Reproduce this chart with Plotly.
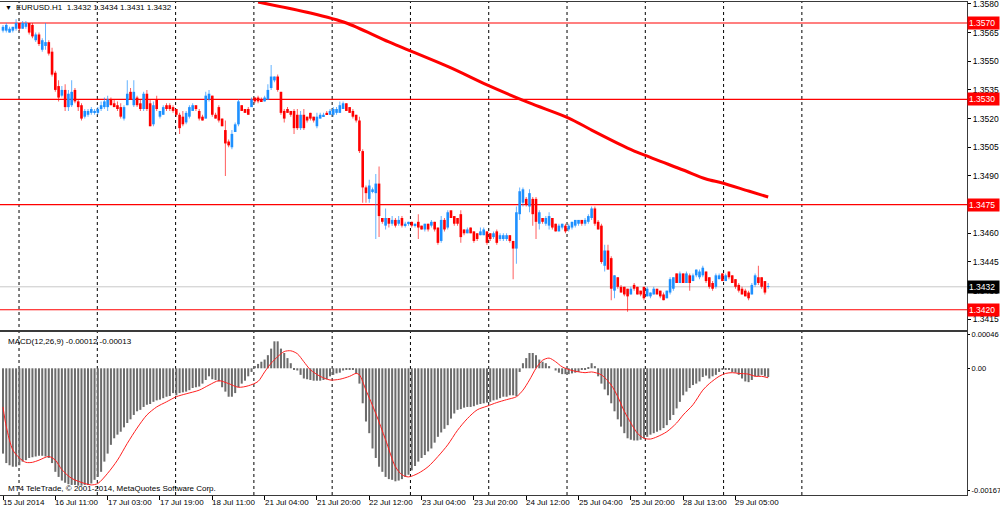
import plotly.graph_objects as go

# ------------------------------------------------------------------ data
time_labels = ["15 Jul 2014", "16 Jul 11:00", "17 Jul 03:00", "17 Jul 19:00", "18 Jul 11:00",
               "21 Jul 04:00", "21 Jul 20:00", "22 Jul 12:00", "23 Jul 04:00", "23 Jul 20:00",
               "24 Jul 12:00", "25 Jul 04:00", "25 Jul 20:00", "28 Jul 13:00", "29 Jul 05:00"]

open_ = [
    1.3566, 1.3566, 1.3565, 1.3566, 1.3567, 1.3570, 1.3567, 1.3568, 1.3570, 1.3569,
    1.3561, 1.3564, 1.3556, 1.3558, 1.3560, 1.3555, 1.3544, 1.3537, 1.3532, 1.3535,
    1.3526, 1.3527, 1.3535, 1.3529, 1.3527, 1.3521, 1.3522, 1.3523, 1.3523, 1.3523,
    1.3525, 1.3526, 1.3526, 1.3530, 1.3528, 1.3527, 1.3526, 1.3520, 1.3527, 1.3534,
    1.3527, 1.3531, 1.3528, 1.3525, 1.3533, 1.3528, 1.3517, 1.3530, 1.3521, 1.3522,
    1.3527, 1.3527, 1.3526, 1.3525, 1.3522, 1.3521, 1.3518, 1.3521, 1.3524, 1.3527,
    1.3524, 1.3521, 1.3520, 1.3530, 1.3532, 1.3522, 1.3526, 1.3520, 1.3514, 1.3508,
    1.3505, 1.3513, 1.3517, 1.3527, 1.3525, 1.3525, 1.3526, 1.3531, 1.3531, 1.3530,
    1.3529, 1.3530, 1.3536, 1.3540, 1.3542, 1.3534, 1.3524, 1.3525, 1.3524, 1.3524,
    1.3522, 1.3515, 1.3522, 1.3521, 1.3523, 1.3521, 1.3516, 1.3520, 1.3521, 1.3523,
    1.3522, 1.3522, 1.3523, 1.3523, 1.3525, 1.3528, 1.3526, 1.3524, 1.3522, 1.3519,
    1.3503, 1.3484, 1.3478, 1.3482, 1.3481, 1.3486, 1.3468, 1.3464, 1.3468, 1.3465,
    1.3467, 1.3465, 1.3468, 1.3464, 1.3465, 1.3466, 1.3464, 1.3466, 1.3464, 1.3462,
    1.3465, 1.3464, 1.3466, 1.3463, 1.3456, 1.3467, 1.3463, 1.3472, 1.3469, 1.3468,
    1.3470, 1.3462, 1.3460, 1.3463, 1.3461, 1.3460, 1.3459, 1.3459, 1.3461, 1.3460,
    1.3458, 1.3461, 1.3457, 1.3457, 1.3457, 1.3459, 1.3456, 1.3452, 1.3470, 1.3476,
    1.3478, 1.3474, 1.3478, 1.3478, 1.3465, 1.3468, 1.3465, 1.3464, 1.3468, 1.3465,
    1.3461, 1.3463, 1.3464, 1.3462, 1.3463, 1.3464, 1.3465, 1.3467, 1.3465, 1.3466,
    1.3468, 1.3473, 1.3466, 1.3464, 1.3443, 1.3451, 1.3447, 1.3430, 1.3437, 1.3432,
    1.3432, 1.3431, 1.3428, 1.3433, 1.3432, 1.3430, 1.3432, 1.3427, 1.3427, 1.3428,
    1.3431, 1.3430, 1.3428, 1.3426, 1.3429, 1.3431, 1.3439, 1.3434, 1.3439, 1.3434,
    1.3438, 1.3435, 1.3438, 1.3437, 1.3438, 1.3440, 1.3437, 1.3434, 1.3432, 1.3436,
    1.3439, 1.3435, 1.3440, 1.3438, 1.3436, 1.3433, 1.3431, 1.3430, 1.3429, 1.3428,
    1.3433, 1.3437, 1.3437, 1.3435, 1.3432]

high = [
    1.3569, 1.3570, 1.3568, 1.3568, 1.3572, 1.3570, 1.3571, 1.3571, 1.3570, 1.3570,
    1.3565, 1.3565, 1.3562, 1.3570, 1.3561, 1.3557, 1.3545, 1.3540, 1.3537, 1.3538,
    1.3535, 1.3540, 1.3536, 1.3530, 1.3528, 1.3525, 1.3525, 1.3526, 1.3525, 1.3526,
    1.3529, 1.3531, 1.3532, 1.3531, 1.3530, 1.3529, 1.3528, 1.3527, 1.3540, 1.3536,
    1.3540, 1.3532, 1.3530, 1.3534, 1.3535, 1.3530, 1.3529, 1.3532, 1.3524, 1.3527,
    1.3528, 1.3528, 1.3527, 1.3525, 1.3523, 1.3524, 1.3524, 1.3527, 1.3528, 1.3527,
    1.3525, 1.3522, 1.3534, 1.3535, 1.3532, 1.3523, 1.3527, 1.3520, 1.3519, 1.3509,
    1.3514, 1.3518, 1.3530, 1.3527, 1.3525, 1.3526, 1.3531, 1.3531, 1.3532, 1.3531,
    1.3532, 1.3538, 1.3548, 1.3542, 1.3543, 1.3534, 1.3525, 1.3526, 1.3524, 1.3525,
    1.3525, 1.3524, 1.3525, 1.3521, 1.3523, 1.3521, 1.3523, 1.3523, 1.3523, 1.3524,
    1.3525, 1.3526, 1.3526, 1.3529, 1.3529, 1.3528, 1.3526, 1.3525, 1.3522, 1.3521,
    1.3504, 1.3485, 1.3488, 1.3484, 1.3491, 1.3495, 1.3468, 1.3473, 1.3468, 1.3469,
    1.3468, 1.3469, 1.3469, 1.3466, 1.3466, 1.3466, 1.3465, 1.3470, 1.3464, 1.3465,
    1.3465, 1.3467, 1.3466, 1.3463, 1.3469, 1.3468, 1.3472, 1.3472, 1.3469, 1.3468,
    1.3472, 1.3462, 1.3463, 1.3463, 1.3461, 1.3460, 1.3463, 1.3463, 1.3461, 1.3460,
    1.3461, 1.3462, 1.3460, 1.3460, 1.3460, 1.3459, 1.3456, 1.3474, 1.3484, 1.3484,
    1.3479, 1.3483, 1.3479, 1.3479, 1.3472, 1.3468, 1.3469, 1.3471, 1.3468, 1.3465,
    1.3465, 1.3465, 1.3465, 1.3465, 1.3466, 1.3467, 1.3467, 1.3467, 1.3468, 1.3470,
    1.3474, 1.3474, 1.3467, 1.3465, 1.3454, 1.3454, 1.3448, 1.3438, 1.3437, 1.3433,
    1.3432, 1.3431, 1.3432, 1.3434, 1.3432, 1.3430, 1.3432, 1.3432, 1.3429, 1.3432,
    1.3431, 1.3430, 1.3429, 1.3430, 1.3437, 1.3437, 1.3439, 1.3440, 1.3439, 1.3440,
    1.3439, 1.3439, 1.3441, 1.3441, 1.3443, 1.3440, 1.3437, 1.3435, 1.3439, 1.3439,
    1.3439, 1.3439, 1.3440, 1.3438, 1.3436, 1.3434, 1.3432, 1.3431, 1.3430, 1.3434,
    1.3439, 1.3443, 1.3437, 1.3435, 1.3434]

low = [
    1.3565, 1.3565, 1.3565, 1.3565, 1.3566, 1.3566, 1.3567, 1.3567, 1.3564, 1.3562,
    1.3560, 1.3558, 1.3555, 1.3556, 1.3553, 1.3542, 1.3534, 1.3529, 1.3531, 1.3524,
    1.3524, 1.3526, 1.3528, 1.3524, 1.3519, 1.3520, 1.3521, 1.3522, 1.3522, 1.3522,
    1.3524, 1.3525, 1.3524, 1.3527, 1.3526, 1.3524, 1.3520, 1.3519, 1.3527, 1.3530,
    1.3526, 1.3526, 1.3524, 1.3524, 1.3524, 1.3516, 1.3516, 1.3524, 1.3520, 1.3522,
    1.3524, 1.3524, 1.3523, 1.3521, 1.3512, 1.3516, 1.3517, 1.3520, 1.3524, 1.3524,
    1.3519, 1.3519, 1.3520, 1.3529, 1.3521, 1.3520, 1.3518, 1.3516, 1.3490, 1.3505,
    1.3504, 1.3513, 1.3516, 1.3524, 1.3523, 1.3522, 1.3526, 1.3528, 1.3528, 1.3529,
    1.3529, 1.3530, 1.3535, 1.3539, 1.3534, 1.3522, 1.3518, 1.3523, 1.3521, 1.3512,
    1.3514, 1.3514, 1.3514, 1.3518, 1.3519, 1.3518, 1.3515, 1.3520, 1.3521, 1.3522,
    1.3522, 1.3521, 1.3522, 1.3523, 1.3525, 1.3524, 1.3523, 1.3520, 1.3518, 1.3502,
    1.3476, 1.3476, 1.3476, 1.3481, 1.3457, 1.3458, 1.3465, 1.3462, 1.3463, 1.3464,
    1.3463, 1.3464, 1.3463, 1.3463, 1.3464, 1.3463, 1.3463, 1.3457, 1.3462, 1.3461,
    1.3461, 1.3463, 1.3461, 1.3454, 1.3455, 1.3461, 1.3462, 1.3468, 1.3464, 1.3464,
    1.3455, 1.3459, 1.3460, 1.3460, 1.3455, 1.3456, 1.3459, 1.3459, 1.3454, 1.3456,
    1.3457, 1.3454, 1.3456, 1.3456, 1.3456, 1.3455, 1.3436, 1.3444, 1.3467, 1.3474,
    1.3474, 1.3471, 1.3464, 1.3457, 1.3462, 1.3465, 1.3464, 1.3462, 1.3462, 1.3461,
    1.3461, 1.3462, 1.3460, 1.3461, 1.3462, 1.3463, 1.3464, 1.3464, 1.3464, 1.3465,
    1.3467, 1.3464, 1.3462, 1.3444, 1.3440, 1.3441, 1.3425, 1.3426, 1.3431, 1.3429,
    1.3427, 1.3419, 1.3428, 1.3430, 1.3428, 1.3427, 1.3425, 1.3427, 1.3426, 1.3428,
    1.3428, 1.3426, 1.3425, 1.3426, 1.3428, 1.3430, 1.3434, 1.3434, 1.3434, 1.3434,
    1.3430, 1.3435, 1.3437, 1.3436, 1.3437, 1.3434, 1.3431, 1.3430, 1.3431, 1.3436,
    1.3435, 1.3435, 1.3436, 1.3434, 1.3431, 1.3429, 1.3428, 1.3427, 1.3425, 1.3428,
    1.3432, 1.3433, 1.3431, 1.3428, 1.3431]

close = [
    1.3568, 1.3569, 1.3567, 1.3568, 1.3570, 1.3567, 1.3570, 1.3570, 1.3565, 1.3563,
    1.3564, 1.3559, 1.3561, 1.3560, 1.3554, 1.3543, 1.3535, 1.3531, 1.3535, 1.3526,
    1.3533, 1.3534, 1.3529, 1.3526, 1.3520, 1.3524, 1.3524, 1.3525, 1.3524, 1.3525,
    1.3527, 1.3529, 1.3530, 1.3527, 1.3526, 1.3525, 1.3521, 1.3526, 1.3533, 1.3530,
    1.3534, 1.3527, 1.3525, 1.3533, 1.3525, 1.3516, 1.3527, 1.3525, 1.3524, 1.3526,
    1.3525, 1.3525, 1.3524, 1.3522, 1.3515, 1.3517, 1.3523, 1.3526, 1.3527, 1.3525,
    1.3520, 1.3519, 1.3532, 1.3533, 1.3522, 1.3520, 1.3519, 1.3516, 1.3507, 1.3506,
    1.3512, 1.3517, 1.3529, 1.3524, 1.3523, 1.3522, 1.3530, 1.3529, 1.3529, 1.3529,
    1.3531, 1.3535, 1.3542, 1.3542, 1.3535, 1.3523, 1.3520, 1.3523, 1.3522, 1.3515,
    1.3515, 1.3522, 1.3515, 1.3519, 1.3520, 1.3519, 1.3521, 1.3522, 1.3522, 1.3522,
    1.3524, 1.3525, 1.3525, 1.3527, 1.3528, 1.3524, 1.3523, 1.3521, 1.3519, 1.3503,
    1.3484, 1.3481, 1.3485, 1.3483, 1.3486, 1.3469, 1.3466, 1.3468, 1.3465, 1.3467,
    1.3464, 1.3467, 1.3464, 1.3465, 1.3466, 1.3464, 1.3465, 1.3463, 1.3462, 1.3465,
    1.3462, 1.3466, 1.3462, 1.3455, 1.3467, 1.3462, 1.3471, 1.3468, 1.3465, 1.3465,
    1.3458, 1.3460, 1.3462, 1.3460, 1.3456, 1.3457, 1.3461, 1.3462, 1.3455, 1.3457,
    1.3460, 1.3455, 1.3459, 1.3459, 1.3459, 1.3456, 1.3452, 1.3471, 1.3482, 1.3483,
    1.3475, 1.3481, 1.3470, 1.3466, 1.3471, 1.3466, 1.3468, 1.3469, 1.3463, 1.3461,
    1.3464, 1.3465, 1.3461, 1.3464, 1.3466, 1.3467, 1.3467, 1.3465, 1.3467, 1.3469,
    1.3473, 1.3465, 1.3462, 1.3445, 1.3451, 1.3441, 1.3431, 1.3438, 1.3432, 1.3429,
    1.3428, 1.3427, 1.3431, 1.3431, 1.3428, 1.3428, 1.3426, 1.3431, 1.3429, 1.3431,
    1.3428, 1.3427, 1.3425, 1.3430, 1.3436, 1.3437, 1.3434, 1.3439, 1.3434, 1.3439,
    1.3434, 1.3438, 1.3441, 1.3440, 1.3442, 1.3435, 1.3432, 1.3431, 1.3438, 1.3438,
    1.3435, 1.3438, 1.3437, 1.3434, 1.3432, 1.3430, 1.3428, 1.3427, 1.3426, 1.3433,
    1.3438, 1.3434, 1.3432, 1.3429, 1.3432]

# MACD(12,26,9) main line (histogram), in units of 0.00001
macd_main_e5 = [
    -117, -130, -133, -135, -135, -133, -128, -126, -123, -122,
    -121, -120, -120, -121, -123, -130, -142, -149, -154, -157,
    -159, -160, -160, -161, -161, -160, -160, -158, -153, -149,
    -142, -128, -117, -105, -96, -91, -87, -81, -75, -70,
    -64, -59, -57, -53, -50, -49, -46, -44, -43, -41,
    -39, -38, -34, -37, -34, -33, -32, -30, -27, -26,
    -25, -21, -16, -11, -15, -16, -18, -26, -32, -39,
    -39, -34, -26, -21, -17, -11, -5, 3, 6, 9,
    12, 18, 27, 37, 37, 27, 21, 14, 7, -1,
    -3, -9, -14, -15, -16, -17, -17, -17, -16, -15,
    -11, -9, -7, -6, -3, -1, -1, -2, -7, -21,
    -48, -73, -89, -110, -123, -135, -142, -149, -152, -153,
    -155, -154, -152, -149, -146, -140, -134, -128, -123, -119,
    -114, -110, -102, -94, -88, -83, -78, -69, -62, -57,
    -56, -54, -53, -53, -52, -50, -49, -48, -47, -46,
    -44, -43, -41, -39, -39, -37, -37, -38, -5, 7,
    14, 21, 21, 18, 12, 9, 7, 3, 0, -3,
    -6, -8, -8, -8, -7, -6, -5, -2, -1, 1,
    7, 3, -11, -21, -29, -37, -48, -59, -70, -80,
    -89, -96, -98, -99, -99, -98, -96, -94, -91, -89,
    -87, -85, -82, -78, -71, -64, -55, -46, -37, -32,
    -27, -23, -21, -18, -12, -10, -14, -11, -9, -5,
    -2, -1, -2, -5, -6, -9, -14, -18, -19, -16,
    -11, -11, -9, -11, -12]

# MACD signal line, read at sample bars (units of 0.00001)
signal_bar = [0, 1, 3, 5, 7, 9, 11, 14, 16, 18, 21, 25, 27, 29, 32, 35, 38, 41, 44, 47,
              50, 53, 56, 60, 63, 66, 69, 72, 75, 78, 80, 82, 84, 86, 88, 90, 92, 94, 97, 100,
              103, 106, 108, 109, 111, 114, 117, 120, 122, 124, 127, 130, 133, 136, 139, 142,
              145, 148, 151, 154, 157, 159, 161, 163, 165, 167, 169, 171, 174, 178, 180, 183,
              186, 188, 190, 192, 194, 196, 198, 200, 203, 206, 208, 211, 214, 216, 219, 221,
              223, 225, 228, 230, 232, 234]
signal_e5 = [-53, -80, -112, -123, -129, -129, -126, -121, -126, -139, -151, -158, -160, -158,
             -144, -126, -103, -82, -64, -53, -46, -39, -35, -30, -23, -17, -21, -26, -24, -18,
             -5, 7, 16, 23, 24, 20, 9, -2, -11, -16, -15, -11, -7, -9, -30, -62, -98, -135,
             -146, -149, -144, -135, -121, -105, -85, -69, -57, -52, -47, -43, -39, -30, -16,
             0, 11, 14, 9, 2, -3, -6, -5, -9, -23, -39, -59, -75, -89, -96, -97, -94, -87,
             -75, -64, -50, -30, -21, -11, -7, -6, -7, -8, -11, -11, -13]

# long moving average (thick red line), read at sample bars
ma_bar = [78, 94, 105, 118, 137, 148, 161, 173, 180, 191, 196, 208, 215, 220, 228, 234]
ma_val = [1.35810, 1.35752, 1.35700, 1.35601, 1.35465, 1.35376, 1.35282, 1.35203,
          1.35140, 1.35046, 1.35010, 1.34931, 1.34884, 1.34863, 1.34821, 1.34790]

level_prices = [1.3570, 1.3530, 1.3475, 1.3420]
bid_price = 1.3432
price_ticks = [1.3580, 1.3565, 1.3550, 1.3535, 1.3520, 1.3505, 1.3490,
               1.3460, 1.3445, 1.3430, 1.3415]
macd_ticks_e5 = [46, 0, -167]
macd_tick_text = ["0.00046", "0.00", "-0.00167"]

header_text = "EURUSD.H1  1.3432 1.3434 1.3431 1.3432"
macd_text = "MACD(12,26,9) -0.00012 -0.00013"
copyright_text = "MT4 TeleTrade, \u00a9 2001-2014, MetaQuotes Software Corp."

# ------------------------------------------------------------------ styling
FONT = "Liberation Sans"
FS = 8.5
FS_TXT = 8
FS_MACD = 7.5
UP = "#1E90FF"
DN = "#FF0000"
UP_W = "rgba(30,144,255,0.7)"
DN_W = "rgba(255,0,0,0.65)"
HIST = "#6c6c6c"
FRAME = "#3a3a3a"
LABEL_STEP = 16          # bars between time labels
GRID_FIRST, GRID_STEP, GRID_COUNT = 4.9, 23.94, 11

n = len(close)
bars = list(range(n))
is_up = [c >= o for o, c in zip(open_, close)]
body_base = [min(o, c) for o, c in zip(open_, close)]
body_h = [max(abs(c - o), 0.00003) for o, c in zip(open_, close)]
wick_h = [h - l for h, l in zip(high, low)]
label_pos = [LABEL_STEP * k for k in range(len(time_labels))]

fig = go.Figure()

# wicks
fig.add_trace(go.Bar(x=bars, y=wick_h, base=low, width=0.3,
                     marker=dict(color=[UP_W if u else DN_W for u in is_up], line=dict(width=0)),
                     xaxis="x", yaxis="y", hoverinfo="skip", showlegend=False))
# bodies
fig.add_trace(go.Bar(x=bars, y=body_h, base=body_base, width=0.8,
                     marker=dict(color=[UP if u else DN for u in is_up], line=dict(width=0)),
                     xaxis="x", yaxis="y", hoverinfo="skip", showlegend=False))
# moving average
fig.add_trace(go.Scatter(x=ma_bar, y=ma_val, mode="lines",
                         line=dict(color="#FF0000", width=3, shape="spline", smoothing=0.8),
                         xaxis="x", yaxis="y", hoverinfo="skip", showlegend=False))
# MACD histogram
fig.add_trace(go.Bar(x=bars, y=macd_main_e5, width=0.62,
                     marker=dict(color=HIST, line=dict(width=0)),
                     xaxis="x2", yaxis="y2", hoverinfo="skip", showlegend=False))
# signal line
fig.add_trace(go.Scatter(x=signal_bar, y=signal_e5, mode="lines",
                         line=dict(color="#FF2020", width=1, shape="spline", smoothing=0.8),
                         xaxis="x2", yaxis="y2", hoverinfo="skip", showlegend=False))

shapes = []
for k in range(GRID_COUNT):
    gx = GRID_FIRST + GRID_STEP * k
    shapes.append(dict(type="line", xref="x", yref="paper", x0=gx, x1=gx, y0=0, y1=0.996,
                       line=dict(color="#000000", width=1, dash="dot"), layer="below"))
for lv in level_prices:
    shapes.append(dict(type="line", xref="paper", yref="y", x0=0, x1=1, y0=lv, y1=lv,
                       line=dict(color="#FF0000", width=1.2), layer="below"))
shapes.append(dict(type="line", xref="paper", yref="y", x0=0, x1=1, y0=bid_price, y1=bid_price,
                   line=dict(color="#C8C8C8", width=1), layer="below"))

annotations = [
    dict(text="\u25bc", xref="paper", yref="paper", x=0.0035, y=0.984, xanchor="left",
         yanchor="middle", showarrow=False, font=dict(family=FONT, size=7, color="#000")),
    dict(text=header_text, xref="paper", yref="paper", x=0.0145, y=0.984, xanchor="left",
         yanchor="middle", showarrow=False, font=dict(family=FONT, size=FS_TXT, color="#000")),
    dict(text=macd_text, xref="paper", yref="paper", x=0.006, y=0.311, xanchor="left",
         yanchor="middle", showarrow=False, font=dict(family=FONT, size=FS_TXT, color="#000")),
    dict(text=copyright_text, xref="paper", yref="paper", x=0.006, y=0.013, xanchor="left",
         yanchor="middle", showarrow=False, font=dict(family=FONT, size=FS_TXT, color="#000")),
]
for lv in level_prices:
    annotations.append(dict(text=f"{lv:.4f}", xref="paper", yref="y", x=1, y=lv,
                            xanchor="left", yanchor="middle", showarrow=False,
                            bgcolor="#FF0000", width=29, align="left", borderpad=1,
                            font=dict(family=FONT, size=FS, color="#FFFFFF")))
annotations.append(dict(text=f"{bid_price:.4f}", xref="paper", yref="y", x=1, y=bid_price,
                        xanchor="left", yanchor="middle", showarrow=False,
                        bgcolor="#000000", width=29, align="left", borderpad=1,
                        font=dict(family=FONT, size=FS, color="#FFFFFF")))
# time labels, left-aligned at their tick like MT4
for pos, lab in zip(label_pos, time_labels):
    annotations.append(dict(text=lab, xref="x2", yref="paper", x=pos, y=0,
                            xanchor="left", yanchor="top", yshift=-1, xshift=-2,
                            showarrow=False, font=dict(family=FONT, size=FS_TXT, color="#000")))

x_range = [-0.92, 294.8]
axis_common = dict(showgrid=False, zeroline=False, showline=True, mirror=True,
                   linecolor=FRAME, linewidth=1, automargin=False)

fig.update_layout(
    width=1000, height=510,
    margin=dict(l=0, r=33, t=0, b=15),
    paper_bgcolor="#FFFFFF", plot_bgcolor="#FFFFFF",
    template="none",
    barmode="overlay",
    showlegend=False,
    hovermode=False,
    font=dict(family=FONT, size=FS, color="#000000"),
    xaxis=dict(domain=[0, 1], range=x_range, anchor="y", showticklabels=False, ticks="",
               **axis_common),
    xaxis2=dict(domain=[0, 1], range=x_range, anchor="y2", matches="x",
                tickvals=label_pos, showticklabels=False,
                ticks="outside", ticklen=4, tickcolor="#000", **axis_common),
    yaxis=dict(domain=[0.3333, 0.996], range=[1.34094, 1.35810], anchor="x", side="right",
               tickvals=price_ticks, ticktext=[f"{v:.4f}" for v in price_ticks],
               ticks="outside", ticklen=3, tickcolor="#000", ticklabeloverflow="allow",
               tickfont=dict(family=FONT, size=FS, color="#000"), **axis_common),
    yaxis2=dict(domain=[0, 0.3293], range=[-173.8, 49.8], anchor="x2", side="right",
                tickvals=macd_ticks_e5, ticktext=macd_tick_text,
                ticks="outside", ticklen=2, tickcolor="#000", ticklabeloverflow="allow",
                tickfont=dict(family=FONT, size=FS_MACD, color="#000"), **axis_common),
    shapes=shapes,
    annotations=annotations,
)

fig.write_html("out.html", config={"displayModeBar": False},
               post_script="document.body.style.margin='0';document.body.style.overflow='hidden';")
